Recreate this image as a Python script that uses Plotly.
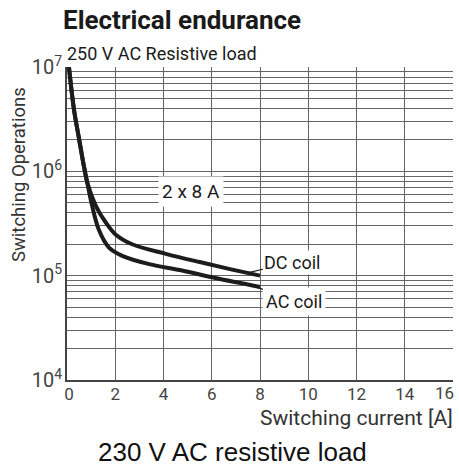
import plotly.graph_objects as go

# Data
dc_current = [0.08, 0.29, 0.50, 0.70, 0.84, 1.19, 1.60, 2.00, 2.70, 4.10, 5.50, 6.80, 8.00]
dc_ops = [1.0e7, 3.9e6, 2.05e6, 1.12e6, 7.8e5, 4.7e5, 3.25e5, 2.5e5, 2.0e5, 1.62e5, 1.35e5, 1.15e5, 1.0e5]
ac_current = [0.08, 0.29, 0.50, 0.70, 0.84, 0.98, 1.32, 1.74, 2.29, 3.41, 4.77, 6.15, 8.00]
ac_ops = [1.0e7, 3.9e6, 2.05e6, 1.12e6, 7.8e5, 5.4e5, 2.75e5, 1.86e5, 1.55e5, 1.29e5, 1.12e5, 9.5e4, 7.8e4]
x_ticks = [0, 2, 4, 6, 8, 10, 12, 14, 16]
x_tick_labels = ["0", "2", "4", "6", "8", "10", "12", "14", "16"]

NARROW = "Roboto, Liberation Sans Narrow, sans-serif"
LINE = "#1c1c1c"
GRID = "#666666"
NB = "\u00a0"
TICKFONT = dict(family=NARROW, size=17, color="#444444")

# the last label sits right-aligned to the page edge (as in the reference); the others are centred
tick_text = list(x_tick_labels)
tick_text[0] = NB + tick_text[0]
last_label = tick_text[-1]
tick_text[-1] = ""

fig = go.Figure()
fig.add_trace(go.Scatter(x=dc_current, y=dc_ops, mode="lines", name="DC coil",
                         line=dict(color=LINE, width=4, shape="spline", smoothing=1.0)))
fig.add_trace(go.Scatter(x=ac_current, y=ac_ops, mode="lines", name="AC coil",
                         line=dict(color=LINE, width=4, shape="spline", smoothing=1.0)))

PW, PH = 386.5, 313.0

fig.update_layout(
    width=459, height=466,
    margin=dict(l=67, r=5.5, t=67, b=86, autoexpand=False),
    paper_bgcolor="white", plot_bgcolor="white",
    showlegend=False,
    font=dict(family=NARROW, color="#333333"),
)
fig.update_xaxes(
    range=[0, 16], tickvals=x_ticks, ticktext=tick_text, ticks="",
    showgrid=True, gridcolor=GRID, gridwidth=1,
    showline=True, linecolor="#444444", linewidth=1.5, mirror=False,
    zeroline=False, automargin=False, ticklabelstandoff=-2,
    tickfont=TICKFONT,
)
fig.update_yaxes(
    type="log", range=[4, 7], dtick=1, exponentformat="power", ticks="",
    showgrid=True, gridcolor=GRID, gridwidth=1,
    minor=dict(dtick="D1", showgrid=True, gridcolor=GRID, gridwidth=1, ticks=""),
    showline=True, linecolor="#444444", linewidth=1.5,
    zeroline=False, automargin=False,
    tickfont=dict(family=NARROW, size=16, color="#444444"),
)

ann = []
ann.append(dict(text=last_label, x=x_ticks[-1], xref="x", y=-(393 - 380) / PH, yref="paper",
                xanchor="right", yanchor="middle", xshift=3, showarrow=False, font=TICKFONT))
ann.append(dict(text="<b>Electrical endurance</b>", xref="paper", yref="paper",
                x=-6 / PW, y=1.0 + (67 - 20) / PH, xanchor="left", yanchor="middle",
                showarrow=False, font=dict(family=NARROW, size=26, color="#1a1a1a")))
ann.append(dict(text="250 V AC Resistive load", xref="paper", yref="paper",
                x=-2 / PW, y=1.0 + (67 - 53) / PH, xanchor="left", yanchor="middle",
                showarrow=False, font=dict(family=NARROW, size=18, color="#1a1a1a")))
ann.append(dict(text="Switching Operations", xref="paper", yref="paper",
                x=-(67 - 19) / PW, y=(380 - 175) / PH, xanchor="center", yanchor="middle",
                textangle=-90, showarrow=False,
                font=dict(family=NARROW, size=18.5, color="#333333")))
ann.append(dict(text="Switching current [A]", xref="paper", yref="paper",
                x=1.005, y=-(418 - 380) / PH, xanchor="right", yanchor="middle",
                showarrow=False, font=dict(family=NARROW, size=21, color="#333333")))
ann.append(dict(text="230 V AC resistive load", xref="paper", yref="paper",
                x=(233 - 67) / PW, y=-(452 - 380) / PH, xanchor="center", yanchor="middle",
                showarrow=False, font=dict(family="Liberation Sans, Arial, sans-serif", size=26, color="#111111")))
ann.append(dict(text="2 x 8 A", x=5.13, y=5.808, xref="x", yref="y",
                showarrow=False, bgcolor="white", borderpad=3,
                font=dict(family=NARROW, size=19, color="#1a1a1a")))
ann.append(dict(text="DC coil", x=7.52, y=5.03, xref="x", yref="y",
                ax=44, ay=-10, axref="pixel", ayref="pixel",
                showarrow=True, arrowhead=0, arrowwidth=1.2, arrowcolor="#1a1a1a",
                bgcolor="white", borderpad=1,
                font=dict(family=NARROW, size=18, color="#1a1a1a")))
ann.append(dict(text="AC coil", x=7.52, y=4.92, xref="x", yref="y",
                ax=46, ay=17, axref="pixel", ayref="pixel",
                showarrow=True, arrowhead=0, arrowwidth=1.2, arrowcolor="#1a1a1a",
                bgcolor="white", borderpad=3,
                font=dict(family=NARROW, size=18, color="#1a1a1a")))
fig.update_layout(annotations=ann)

fig.write_html("out.html", config={"displayModeBar": False},
               post_script="document.body.style.margin='0';document.body.style.overflow='hidden';")
